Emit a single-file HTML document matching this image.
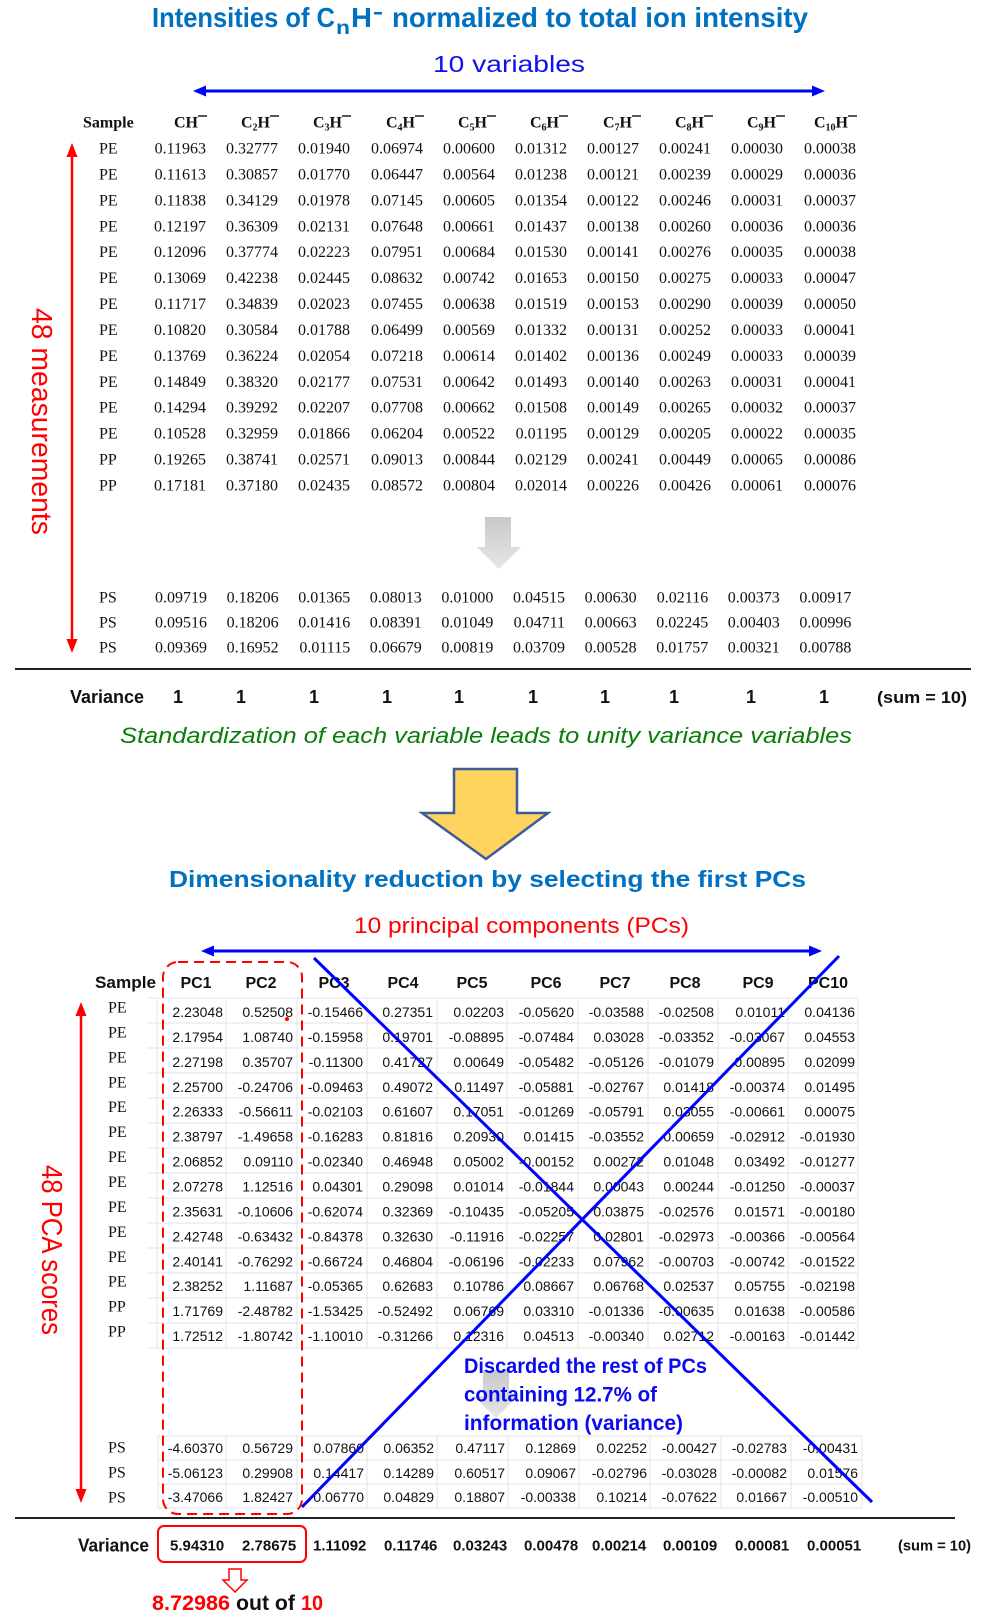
<!DOCTYPE html>
<html>
<head>
<meta charset="utf-8">
<style>
html,body{margin:0;padding:0;background:#fff;}
svg{display:block;}
.serif{font-family:"Liberation Serif",serif;font-size:16px;fill:#111;}
.sans{font-family:"Liberation Sans",sans-serif;}
.pv{font-family:"Liberation Sans",sans-serif;font-size:14px;fill:#111;}
</style>
</head>
<body>
<svg width="981" height="1616" viewBox="0 0 981 1616" xmlns="http://www.w3.org/2000/svg">
<defs>
<linearGradient id="gg" x1="0" y1="0" x2="0" y2="1">
<stop offset="0" stop-color="#c9c9c9"/><stop offset="1" stop-color="#e6e6e6"/>
</linearGradient>
</defs>
<rect width="981" height="1616" fill="#fff"/>

<!-- Title -->
<g class="sans" font-weight="bold" fill="#0070C0">
<text x="152" y="27" font-size="28" textLength="183" lengthAdjust="spacingAndGlyphs">Intensities of C</text>
<text x="336" y="34" font-size="19" textLength="14" lengthAdjust="spacingAndGlyphs">n</text>
<text x="351" y="27" font-size="28" textLength="21" lengthAdjust="spacingAndGlyphs">H</text>
<rect x="374" y="12" width="8" height="2.5"/>
<text x="392" y="27" font-size="28" textLength="416" lengthAdjust="spacingAndGlyphs">normalized to total ion intensity</text>
</g>

<text class="sans" x="433" y="72" font-size="23" fill="#1010F0" textLength="152" lengthAdjust="spacingAndGlyphs">10 variables</text>

<!-- upper blue arrow -->
<line x1="203" y1="91" x2="815" y2="91" stroke="#0000FF" stroke-width="3"/>
<polygon points="193,91 206,85.5 206,96.5" fill="#0000FF"/>
<polygon points="825,91 812,85.5 812,96.5" fill="#0000FF"/>

<!-- upper table header -->
<g class="serif" font-weight="bold">
<text x="83" y="127.5">Sample</text>
</g>
<g class="serif" font-weight="bold" text-anchor="end">
<text y="127.5"><tspan x="198">CH</tspan></text>
<text y="127.5"><tspan x="270">C<tspan font-size="10" dy="3">2</tspan><tspan dy="-3">H</tspan></tspan></text>
<text y="127.5"><tspan x="342">C<tspan font-size="10" dy="3">3</tspan><tspan dy="-3">H</tspan></tspan></text>
<text y="127.5"><tspan x="415">C<tspan font-size="10" dy="3">4</tspan><tspan dy="-3">H</tspan></tspan></text>
<text y="127.5"><tspan x="487">C<tspan font-size="10" dy="3">5</tspan><tspan dy="-3">H</tspan></tspan></text>
<text y="127.5"><tspan x="559">C<tspan font-size="10" dy="3">6</tspan><tspan dy="-3">H</tspan></tspan></text>
<text y="127.5"><tspan x="632">C<tspan font-size="10" dy="3">7</tspan><tspan dy="-3">H</tspan></tspan></text>
<text y="127.5"><tspan x="704">C<tspan font-size="10" dy="3">8</tspan><tspan dy="-3">H</tspan></tspan></text>
<text y="127.5"><tspan x="776">C<tspan font-size="10" dy="3">9</tspan><tspan dy="-3">H</tspan></tspan></text>
<text y="127.5"><tspan x="848">C<tspan font-size="10" dy="3">10</tspan><tspan dy="-3">H</tspan></tspan></text>
</g>
<g stroke="#111" stroke-width="1.4">
<line x1="198" y1="116" x2="207" y2="116"/>
<line x1="270" y1="116" x2="279" y2="116"/>
<line x1="342" y1="116" x2="351" y2="116"/>
<line x1="415" y1="116" x2="424" y2="116"/>
<line x1="487" y1="116" x2="496" y2="116"/>
<line x1="559" y1="116" x2="568" y2="116"/>
<line x1="632" y1="116" x2="641" y2="116"/>
<line x1="704" y1="116" x2="713" y2="116"/>
<line x1="776" y1="116" x2="785" y2="116"/>
<line x1="848" y1="116" x2="857" y2="116"/>
</g>

<!-- upper labels -->
<g class="serif">
<text x="99" y="153.5">PE</text>
<text x="99" y="179.4">PE</text>
<text x="99" y="205.3">PE</text>
<text x="99" y="231.3">PE</text>
<text x="99" y="257.2">PE</text>
<text x="99" y="283.1">PE</text>
<text x="99" y="309.0">PE</text>
<text x="99" y="334.9">PE</text>
<text x="99" y="360.9">PE</text>
<text x="99" y="386.8">PE</text>
<text x="99" y="412.7">PE</text>
<text x="99" y="438.6">PE</text>
<text x="99" y="464.5">PP</text>
<text x="99" y="490.5">PP</text>
<text x="99" y="602.5">PS</text>
<text x="99" y="627.5">PS</text>
<text x="99" y="652.5">PS</text>
</g>

<!-- upper values -->
<g class="serif" text-anchor="end">
<text y="153.5"><tspan x="206">0.11963</tspan><tspan x="278">0.32777</tspan><tspan x="350">0.01940</tspan><tspan x="423">0.06974</tspan><tspan x="495">0.00600</tspan><tspan x="567">0.01312</tspan><tspan x="639">0.00127</tspan><tspan x="711">0.00241</tspan><tspan x="783">0.00030</tspan><tspan x="856">0.00038</tspan></text>
<text y="179.4"><tspan x="206">0.11613</tspan><tspan x="278">0.30857</tspan><tspan x="350">0.01770</tspan><tspan x="423">0.06447</tspan><tspan x="495">0.00564</tspan><tspan x="567">0.01238</tspan><tspan x="639">0.00121</tspan><tspan x="711">0.00239</tspan><tspan x="783">0.00029</tspan><tspan x="856">0.00036</tspan></text>
<text y="205.3"><tspan x="206">0.11838</tspan><tspan x="278">0.34129</tspan><tspan x="350">0.01978</tspan><tspan x="423">0.07145</tspan><tspan x="495">0.00605</tspan><tspan x="567">0.01354</tspan><tspan x="639">0.00122</tspan><tspan x="711">0.00246</tspan><tspan x="783">0.00031</tspan><tspan x="856">0.00037</tspan></text>
<text y="231.3"><tspan x="206">0.12197</tspan><tspan x="278">0.36309</tspan><tspan x="350">0.02131</tspan><tspan x="423">0.07648</tspan><tspan x="495">0.00661</tspan><tspan x="567">0.01437</tspan><tspan x="639">0.00138</tspan><tspan x="711">0.00260</tspan><tspan x="783">0.00036</tspan><tspan x="856">0.00036</tspan></text>
<text y="257.2"><tspan x="206">0.12096</tspan><tspan x="278">0.37774</tspan><tspan x="350">0.02223</tspan><tspan x="423">0.07951</tspan><tspan x="495">0.00684</tspan><tspan x="567">0.01530</tspan><tspan x="639">0.00141</tspan><tspan x="711">0.00276</tspan><tspan x="783">0.00035</tspan><tspan x="856">0.00038</tspan></text>
<text y="283.1"><tspan x="206">0.13069</tspan><tspan x="278">0.42238</tspan><tspan x="350">0.02445</tspan><tspan x="423">0.08632</tspan><tspan x="495">0.00742</tspan><tspan x="567">0.01653</tspan><tspan x="639">0.00150</tspan><tspan x="711">0.00275</tspan><tspan x="783">0.00033</tspan><tspan x="856">0.00047</tspan></text>
<text y="309.0"><tspan x="206">0.11717</tspan><tspan x="278">0.34839</tspan><tspan x="350">0.02023</tspan><tspan x="423">0.07455</tspan><tspan x="495">0.00638</tspan><tspan x="567">0.01519</tspan><tspan x="639">0.00153</tspan><tspan x="711">0.00290</tspan><tspan x="783">0.00039</tspan><tspan x="856">0.00050</tspan></text>
<text y="334.9"><tspan x="206">0.10820</tspan><tspan x="278">0.30584</tspan><tspan x="350">0.01788</tspan><tspan x="423">0.06499</tspan><tspan x="495">0.00569</tspan><tspan x="567">0.01332</tspan><tspan x="639">0.00131</tspan><tspan x="711">0.00252</tspan><tspan x="783">0.00033</tspan><tspan x="856">0.00041</tspan></text>
<text y="360.9"><tspan x="206">0.13769</tspan><tspan x="278">0.36224</tspan><tspan x="350">0.02054</tspan><tspan x="423">0.07218</tspan><tspan x="495">0.00614</tspan><tspan x="567">0.01402</tspan><tspan x="639">0.00136</tspan><tspan x="711">0.00249</tspan><tspan x="783">0.00033</tspan><tspan x="856">0.00039</tspan></text>
<text y="386.8"><tspan x="206">0.14849</tspan><tspan x="278">0.38320</tspan><tspan x="350">0.02177</tspan><tspan x="423">0.07531</tspan><tspan x="495">0.00642</tspan><tspan x="567">0.01493</tspan><tspan x="639">0.00140</tspan><tspan x="711">0.00263</tspan><tspan x="783">0.00031</tspan><tspan x="856">0.00041</tspan></text>
<text y="412.7"><tspan x="206">0.14294</tspan><tspan x="278">0.39292</tspan><tspan x="350">0.02207</tspan><tspan x="423">0.07708</tspan><tspan x="495">0.00662</tspan><tspan x="567">0.01508</tspan><tspan x="639">0.00149</tspan><tspan x="711">0.00265</tspan><tspan x="783">0.00032</tspan><tspan x="856">0.00037</tspan></text>
<text y="438.6"><tspan x="206">0.10528</tspan><tspan x="278">0.32959</tspan><tspan x="350">0.01866</tspan><tspan x="423">0.06204</tspan><tspan x="495">0.00522</tspan><tspan x="567">0.01195</tspan><tspan x="639">0.00129</tspan><tspan x="711">0.00205</tspan><tspan x="783">0.00022</tspan><tspan x="856">0.00035</tspan></text>
<text y="464.5"><tspan x="206">0.19265</tspan><tspan x="278">0.38741</tspan><tspan x="350">0.02571</tspan><tspan x="423">0.09013</tspan><tspan x="495">0.00844</tspan><tspan x="567">0.02129</tspan><tspan x="639">0.00241</tspan><tspan x="711">0.00449</tspan><tspan x="783">0.00065</tspan><tspan x="856">0.00086</tspan></text>
<text y="490.5"><tspan x="206">0.17181</tspan><tspan x="278">0.37180</tspan><tspan x="350">0.02435</tspan><tspan x="423">0.08572</tspan><tspan x="495">0.00804</tspan><tspan x="567">0.02014</tspan><tspan x="639">0.00226</tspan><tspan x="711">0.00426</tspan><tspan x="783">0.00061</tspan><tspan x="856">0.00076</tspan></text>
<text y="602.5"><tspan x="207">0.09719</tspan><tspan x="278.6">0.18206</tspan><tspan x="350.2">0.01365</tspan><tspan x="421.8">0.08013</tspan><tspan x="493.4">0.01000</tspan><tspan x="565">0.04515</tspan><tspan x="636.6">0.00630</tspan><tspan x="708.2">0.02116</tspan><tspan x="779.8">0.00373</tspan><tspan x="851.4">0.00917</tspan></text>
<text y="627.5"><tspan x="207">0.09516</tspan><tspan x="278.6">0.18206</tspan><tspan x="350.2">0.01416</tspan><tspan x="421.8">0.08391</tspan><tspan x="493.4">0.01049</tspan><tspan x="565">0.04711</tspan><tspan x="636.6">0.00663</tspan><tspan x="708.2">0.02245</tspan><tspan x="779.8">0.00403</tspan><tspan x="851.4">0.00996</tspan></text>
<text y="652.5"><tspan x="207">0.09369</tspan><tspan x="278.6">0.16952</tspan><tspan x="350.2">0.01115</tspan><tspan x="421.8">0.06679</tspan><tspan x="493.4">0.00819</tspan><tspan x="565">0.03709</tspan><tspan x="636.6">0.00528</tspan><tspan x="708.2">0.01757</tspan><tspan x="779.8">0.00321</tspan><tspan x="851.4">0.00788</tspan></text>
</g>

<!-- upper red arrow + label -->
<line x1="72" y1="154" x2="72" y2="642" stroke="#FF0000" stroke-width="2.5"/>
<polygon points="72,143 66.5,157 77.5,157" fill="#FF0000"/>
<polygon points="72,653 66.5,639 77.5,639" fill="#FF0000"/>
<text class="sans" transform="translate(32,308) rotate(90)" font-size="29" fill="#FF0000" textLength="227" lengthAdjust="spacingAndGlyphs">48 measurements</text>

<!-- gray arrow upper -->
<polygon points="485,517 511,517 511,547 521,547 499,569 477,547 485,547" fill="url(#gg)"/>

<!-- separator -->
<line x1="15" y1="669" x2="971" y2="669" stroke="#222" stroke-width="2"/>

<!-- variance upper -->
<g class="sans" font-weight="bold" font-size="18" fill="#111">
<text x="70" y="703" textLength="74" lengthAdjust="spacingAndGlyphs">Variance</text>
</g>
<g class="sans" font-weight="bold" font-size="18" fill="#111" text-anchor="middle">
<text y="703"><tspan x="178">1</tspan><tspan x="241">1</tspan><tspan x="314">1</tspan><tspan x="387">1</tspan><tspan x="459">1</tspan><tspan x="533">1</tspan><tspan x="605">1</tspan><tspan x="674">1</tspan><tspan x="751">1</tspan><tspan x="824">1</tspan></text>
</g>
<text class="sans" x="877" y="703" font-size="17" font-weight="bold" fill="#111" textLength="90" lengthAdjust="spacingAndGlyphs">(sum = 10)</text>

<text class="sans" x="120" y="743" font-size="22" font-style="italic" fill="#0A7D0A" textLength="732" lengthAdjust="spacingAndGlyphs">Standardization of each variable leads to unity variance variables</text>

<!-- yellow arrow -->
<polygon points="454,769 517,769 517,813 548,813 486,859 422,813 454,813" fill="#FFD45E" stroke="#3D5A99" stroke-width="2.5" stroke-linejoin="miter"/>

<text class="sans" x="169" y="887" font-size="23.5" font-weight="bold" fill="#0070C0" textLength="637" lengthAdjust="spacingAndGlyphs">Dimensionality reduction by selecting the first PCs</text>
<text class="sans" x="354" y="933" font-size="22" fill="#FF0000" textLength="335" lengthAdjust="spacingAndGlyphs">10 principal components (PCs)</text>

<!-- lower blue arrow -->
<line x1="211" y1="951" x2="812" y2="951" stroke="#0000FF" stroke-width="3"/>
<polygon points="201,951 214,945.5 214,956.5" fill="#0000FF"/>
<polygon points="822,951 809,945.5 809,956.5" fill="#0000FF"/>

<!-- grid -->
<g stroke="#e3e3e3" stroke-width="1">
<line x1="147" y1="998" x2="858" y2="998"/>
<line x1="147" y1="1023" x2="858" y2="1023"/>
<line x1="147" y1="1048" x2="858" y2="1048"/>
<line x1="147" y1="1073" x2="858" y2="1073"/>
<line x1="147" y1="1098" x2="858" y2="1098"/>
<line x1="147" y1="1123" x2="858" y2="1123"/>
<line x1="147" y1="1148" x2="858" y2="1148"/>
<line x1="147" y1="1173" x2="858" y2="1173"/>
<line x1="147" y1="1198" x2="858" y2="1198"/>
<line x1="147" y1="1223" x2="858" y2="1223"/>
<line x1="147" y1="1248" x2="858" y2="1248"/>
<line x1="147" y1="1273" x2="858" y2="1273"/>
<line x1="147" y1="1298" x2="858" y2="1298"/>
<line x1="147" y1="1323" x2="858" y2="1323"/>
<line x1="147" y1="1348" x2="858" y2="1348"/>
<line x1="157" y1="998" x2="157" y2="1348"/>
<line x1="226" y1="998" x2="226" y2="1348"/>
<line x1="297" y1="998" x2="297" y2="1348"/>
<line x1="367" y1="998" x2="367" y2="1348"/>
<line x1="437" y1="998" x2="437" y2="1348"/>
<line x1="507" y1="998" x2="507" y2="1348"/>
<line x1="578" y1="998" x2="578" y2="1348"/>
<line x1="648" y1="998" x2="648" y2="1348"/>
<line x1="718" y1="998" x2="718" y2="1348"/>
<line x1="788" y1="998" x2="788" y2="1348"/>
<line x1="858" y1="998" x2="858" y2="1348"/>
<line x1="158" y1="1436" x2="862" y2="1436"/>
<line x1="158" y1="1460" x2="862" y2="1460"/>
<line x1="158" y1="1484" x2="862" y2="1484"/>
<line x1="158" y1="1508" x2="862" y2="1508"/>
<line x1="158" y1="1436" x2="158" y2="1508"/>
<line x1="226" y1="1436" x2="226" y2="1508"/>
<line x1="297" y1="1436" x2="297" y2="1508"/>
<line x1="367" y1="1436" x2="367" y2="1508"/>
<line x1="437" y1="1436" x2="437" y2="1508"/>
<line x1="508" y1="1436" x2="508" y2="1508"/>
<line x1="579" y1="1436" x2="579" y2="1508"/>
<line x1="650" y1="1436" x2="650" y2="1508"/>
<line x1="721" y1="1436" x2="721" y2="1508"/>
<line x1="791" y1="1436" x2="791" y2="1508"/>
<line x1="862" y1="1436" x2="862" y2="1508"/>
</g>

<!-- PCA header -->
<text class="sans" x="95" y="988" font-size="16.5" font-weight="bold" fill="#111" textLength="61" lengthAdjust="spacingAndGlyphs">Sample</text>
<g class="sans" font-size="16" font-weight="bold" fill="#111" text-anchor="middle">
<text y="988"><tspan x="196">PC1</tspan><tspan x="261">PC2</tspan><tspan x="334">PC3</tspan><tspan x="403">PC4</tspan><tspan x="472">PC5</tspan><tspan x="546">PC6</tspan><tspan x="615">PC7</tspan><tspan x="685">PC8</tspan><tspan x="758">PC9</tspan><tspan x="828">PC10</tspan></text>
</g>

<!-- PCA labels -->
<g class="serif">
<text x="108" y="1012.5">PE</text>
<text x="108" y="1037.4">PE</text>
<text x="108" y="1062.4">PE</text>
<text x="108" y="1087.3">PE</text>
<text x="108" y="1112.2">PE</text>
<text x="108" y="1137.2">PE</text>
<text x="108" y="1162.1">PE</text>
<text x="108" y="1187.0">PE</text>
<text x="108" y="1211.9">PE</text>
<text x="108" y="1236.9">PE</text>
<text x="108" y="1261.8">PE</text>
<text x="108" y="1286.7">PE</text>
<text x="108" y="1311.7">PP</text>
<text x="108" y="1336.6">PP</text>
<text x="108" y="1452.5">PS</text>
<text x="108" y="1477.5">PS</text>
<text x="108" y="1502.5">PS</text>
</g>

<!-- PCA values -->
<g class="pv" text-anchor="end">
<text y="1017"><tspan x="223">2.23048</tspan><tspan x="293">0.52508</tspan><tspan x="363">-0.15466</tspan><tspan x="433">0.27351</tspan><tspan x="504">0.02203</tspan><tspan x="574">-0.05620</tspan><tspan x="644">-0.03588</tspan><tspan x="714">-0.02508</tspan><tspan x="785">0.01011</tspan><tspan x="855">0.04136</tspan></text>
<text y="1041.9"><tspan x="223">2.17954</tspan><tspan x="293">1.08740</tspan><tspan x="363">-0.15958</tspan><tspan x="433">0.19701</tspan><tspan x="504">-0.08895</tspan><tspan x="574">-0.07484</tspan><tspan x="644">0.03028</tspan><tspan x="714">-0.03352</tspan><tspan x="785">-0.03067</tspan><tspan x="855">0.04553</tspan></text>
<text y="1066.9"><tspan x="223">2.27198</tspan><tspan x="293">0.35707</tspan><tspan x="363">-0.11300</tspan><tspan x="433">0.41727</tspan><tspan x="504">0.00649</tspan><tspan x="574">-0.05482</tspan><tspan x="644">-0.05126</tspan><tspan x="714">-0.01079</tspan><tspan x="785">0.00895</tspan><tspan x="855">0.02099</tspan></text>
<text y="1091.8"><tspan x="223">2.25700</tspan><tspan x="293">-0.24706</tspan><tspan x="363">-0.09463</tspan><tspan x="433">0.49072</tspan><tspan x="504">0.11497</tspan><tspan x="574">-0.05881</tspan><tspan x="644">-0.02767</tspan><tspan x="714">0.01418</tspan><tspan x="785">-0.00374</tspan><tspan x="855">0.01495</tspan></text>
<text y="1116.7"><tspan x="223">2.26333</tspan><tspan x="293">-0.56611</tspan><tspan x="363">-0.02103</tspan><tspan x="433">0.61607</tspan><tspan x="504">0.17051</tspan><tspan x="574">-0.01269</tspan><tspan x="644">-0.05791</tspan><tspan x="714">0.03055</tspan><tspan x="785">-0.00661</tspan><tspan x="855">0.00075</tspan></text>
<text y="1141.7"><tspan x="223">2.38797</tspan><tspan x="293">-1.49658</tspan><tspan x="363">-0.16283</tspan><tspan x="433">0.81816</tspan><tspan x="504">0.20930</tspan><tspan x="574">0.01415</tspan><tspan x="644">-0.03552</tspan><tspan x="714">0.00659</tspan><tspan x="785">-0.02912</tspan><tspan x="855">-0.01930</tspan></text>
<text y="1166.6"><tspan x="223">2.06852</tspan><tspan x="293">0.09110</tspan><tspan x="363">-0.02340</tspan><tspan x="433">0.46948</tspan><tspan x="504">0.05002</tspan><tspan x="574">-0.00152</tspan><tspan x="644">0.00272</tspan><tspan x="714">0.01048</tspan><tspan x="785">0.03492</tspan><tspan x="855">-0.01277</tspan></text>
<text y="1191.5"><tspan x="223">2.07278</tspan><tspan x="293">1.12516</tspan><tspan x="363">0.04301</tspan><tspan x="433">0.29098</tspan><tspan x="504">0.01014</tspan><tspan x="574">-0.01844</tspan><tspan x="644">0.00043</tspan><tspan x="714">0.00244</tspan><tspan x="785">-0.01250</tspan><tspan x="855">-0.00037</tspan></text>
<text y="1216.4"><tspan x="223">2.35631</tspan><tspan x="293">-0.10606</tspan><tspan x="363">-0.62074</tspan><tspan x="433">0.32369</tspan><tspan x="504">-0.10435</tspan><tspan x="574">-0.05205</tspan><tspan x="644">0.03875</tspan><tspan x="714">-0.02576</tspan><tspan x="785">0.01571</tspan><tspan x="855">-0.00180</tspan></text>
<text y="1241.4"><tspan x="223">2.42748</tspan><tspan x="293">-0.63432</tspan><tspan x="363">-0.84378</tspan><tspan x="433">0.32630</tspan><tspan x="504">-0.11916</tspan><tspan x="574">-0.02257</tspan><tspan x="644">0.02801</tspan><tspan x="714">-0.02973</tspan><tspan x="785">-0.00366</tspan><tspan x="855">-0.00564</tspan></text>
<text y="1266.3"><tspan x="223">2.40141</tspan><tspan x="293">-0.76292</tspan><tspan x="363">-0.66724</tspan><tspan x="433">0.46804</tspan><tspan x="504">-0.06196</tspan><tspan x="574">-0.02233</tspan><tspan x="644">0.07962</tspan><tspan x="714">-0.00703</tspan><tspan x="785">-0.00742</tspan><tspan x="855">-0.01522</tspan></text>
<text y="1291.2"><tspan x="223">2.38252</tspan><tspan x="293">1.11687</tspan><tspan x="363">-0.05365</tspan><tspan x="433">0.62683</tspan><tspan x="504">0.10786</tspan><tspan x="574">0.08667</tspan><tspan x="644">0.06768</tspan><tspan x="714">0.02537</tspan><tspan x="785">0.05755</tspan><tspan x="855">-0.02198</tspan></text>
<text y="1316.2"><tspan x="223">1.71769</tspan><tspan x="293">-2.48782</tspan><tspan x="363">-1.53425</tspan><tspan x="433">-0.52492</tspan><tspan x="504">0.06769</tspan><tspan x="574">0.03310</tspan><tspan x="644">-0.01336</tspan><tspan x="714">-0.00635</tspan><tspan x="785">0.01638</tspan><tspan x="855">-0.00586</tspan></text>
<text y="1341.1"><tspan x="223">1.72512</tspan><tspan x="293">-1.80742</tspan><tspan x="363">-1.10010</tspan><tspan x="433">-0.31266</tspan><tspan x="504">0.12316</tspan><tspan x="574">0.04513</tspan><tspan x="644">-0.00340</tspan><tspan x="714">0.02712</tspan><tspan x="785">-0.00163</tspan><tspan x="855">-0.01442</tspan></text>
<text y="1453"><tspan x="223">-4.60370</tspan><tspan x="293">0.56729</tspan><tspan x="364">0.07860</tspan><tspan x="434">0.06352</tspan><tspan x="505">0.47117</tspan><tspan x="576">0.12869</tspan><tspan x="647">0.02252</tspan><tspan x="717">-0.00427</tspan><tspan x="787">-0.02783</tspan><tspan x="858">-0.00431</tspan></text>
<text y="1478"><tspan x="223">-5.06123</tspan><tspan x="293">0.29908</tspan><tspan x="364">0.14417</tspan><tspan x="434">0.14289</tspan><tspan x="505">0.60517</tspan><tspan x="576">0.09067</tspan><tspan x="647">-0.02796</tspan><tspan x="717">-0.03028</tspan><tspan x="787">-0.00082</tspan><tspan x="858">0.01576</tspan></text>
<text y="1502"><tspan x="223">-3.47066</tspan><tspan x="293">1.82427</tspan><tspan x="364">0.06770</tspan><tspan x="434">0.04829</tspan><tspan x="505">0.18807</tspan><tspan x="576">-0.00338</tspan><tspan x="647">0.10214</tspan><tspan x="717">-0.07622</tspan><tspan x="787">0.01667</tspan><tspan x="858">-0.00510</tspan></text>
</g>

<!-- red dashed box -->
<rect x="163" y="962" width="139" height="552" rx="15" ry="15" fill="none" stroke="#FF0000" stroke-width="2" stroke-dasharray="10 6"/>
<circle cx="287" cy="1019" r="2" fill="#FF0000"/>

<!-- gray arrow lower -->
<polygon points="483,1370 509,1370 509,1396 518,1396 496,1418 474,1396 483,1396" fill="url(#gg)"/>

<!-- blue X -->
<line x1="314" y1="958" x2="872" y2="1502" stroke="#0000FF" stroke-width="3"/>
<line x1="839" y1="956" x2="302" y2="1507" stroke="#0000FF" stroke-width="3"/>

<!-- discarded text -->
<g class="sans" font-size="21" font-weight="bold" fill="#0A0AF0">
<text x="464" y="1373" textLength="243" lengthAdjust="spacingAndGlyphs">Discarded the rest of PCs</text>
<text x="464" y="1401.5" textLength="193" lengthAdjust="spacingAndGlyphs">containing 12.7% of</text>
<text x="464" y="1430" textLength="219" lengthAdjust="spacingAndGlyphs">information (variance)</text>
</g>

<!-- lower red arrow + label -->
<line x1="81" y1="1013" x2="81" y2="1492" stroke="#FF0000" stroke-width="2.5"/>
<polygon points="81,1002 75.5,1016 86.5,1016" fill="#FF0000"/>
<polygon points="81,1503 75.5,1489 86.5,1489" fill="#FF0000"/>
<text class="sans" transform="translate(42,1165) rotate(90)" font-size="29" fill="#FF0000" textLength="170" lengthAdjust="spacingAndGlyphs">48 PCA scores</text>

<!-- bottom separator -->
<line x1="15" y1="1518" x2="955" y2="1518" stroke="#222" stroke-width="2"/>

<!-- variance lower -->
<text class="sans" x="78" y="1551.5" font-size="18" font-weight="bold" fill="#111" textLength="71" lengthAdjust="spacingAndGlyphs">Variance</text>
<rect x="158" y="1526" width="148" height="36" rx="6" ry="6" fill="none" stroke="#FF0000" stroke-width="2"/>
<g class="sans" font-size="15" font-weight="bold" fill="#111">
<text y="1550.5"><tspan x="170">5.94310</tspan><tspan x="242">2.78675</tspan><tspan x="313">1.11092</tspan><tspan x="384">0.11746</tspan><tspan x="453">0.03243</tspan><tspan x="524">0.00478</tspan><tspan x="592">0.00214</tspan><tspan x="663">0.00109</tspan><tspan x="735">0.00081</tspan><tspan x="807">0.00051</tspan></text>
</g>
<text class="sans" x="898" y="1550.5" font-size="15" font-weight="bold" fill="#111" textLength="73" lengthAdjust="spacingAndGlyphs">(sum = 10)</text>

<!-- hollow down arrow -->
<polygon points="229,1569 241,1569 241,1580 247,1580 235,1592 223,1580 229,1580" fill="#fff" stroke="#FF0000" stroke-width="1.5"/>

<g class="sans" font-size="21" font-weight="bold">
<text x="152" y="1610" fill="#FF0000" textLength="78" lengthAdjust="spacingAndGlyphs">8.72986</text>
<text x="236" y="1610" fill="#111" textLength="59" lengthAdjust="spacingAndGlyphs">out of</text>
<text x="301" y="1610" fill="#FF0000" textLength="22" lengthAdjust="spacingAndGlyphs">10</text>
</g>
</svg>
</body>
</html>
